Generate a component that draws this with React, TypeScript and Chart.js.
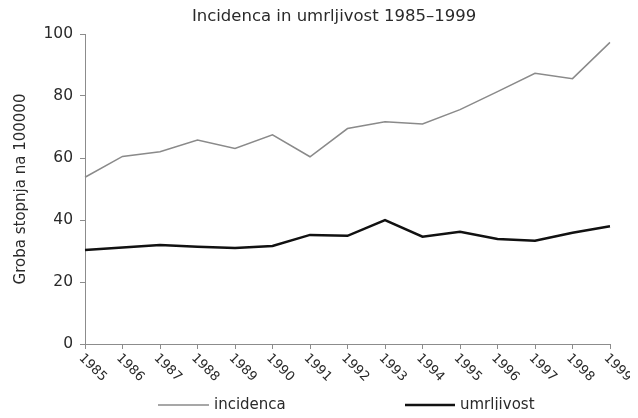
import React, { useEffect, useRef } from "react";
import { Chart, registerables } from "chart.js";

Chart.register(...registerables);

const TITLE = "Incidenca in umrljivost 1985–1999";
const Y_TITLE = "Groba stopnja na 100000";
const years = ["1985", "1986", "1987", "1988", "1989", "1990", "1991", "1992", "1993", "1994", "1995", "1996", "1997", "1998", "1999"];
const incidenca = [53.8, 60.5, 62.0, 65.8, 63.1, 67.5, 60.4, 69.5, 71.7, 71.0, 75.6, 81.4, 87.3, 85.6, 97.3];
const umrljivost = [30.3, 31.1, 31.9, 31.4, 31.0, 31.6, 35.2, 34.9, 40.0, 34.6, 36.2, 33.9, 33.3, 35.9, 38.0];
const seriesNames = ["incidenca", "umrljivost"];
const yTicks = [0, 20, 40, 60, 80, 100];

const FONT = "'DejaVu Sans', sans-serif";
const TEXT = "#2a2a2a";
const AXIS = "#8c8c8c";

const W = 630;
const H = 402;

export default function App() {
  const ref = useRef<HTMLCanvasElement | null>(null);

  useEffect(() => {
    const canvas = ref.current;
    if (!canvas) return;

    const decor = {
      id: "decor",
      afterDraw(chart: any) {
        const ctx = chart.ctx;
        const area = chart.chartArea;
        const xs = chart.scales.x;
        ctx.save();
        ctx.fillStyle = TEXT;
        // title
        ctx.font = `16.5px ${FONT}`;
        ctx.textAlign = "center";
        ctx.textBaseline = "middle";
        ctx.fillText(TITLE, 326, 9);
        // rotated x labels
        ctx.font = `13px ${FONT}`;
        years.forEach((lab, i) => {
          const x = xs.getPixelForTick(i);
          ctx.save();
          ctx.translate(x - 4, area.bottom + 12);
          ctx.rotate(Math.PI / 4);
          ctx.textAlign = "left";
          ctx.textBaseline = "middle";
          ctx.fillText(lab, 0, 0);
          ctx.restore();
        });
        // legend
        const ly = 397;
        const items = [
          { x0: 150, x1: 201, color: "#8a8a8a", w: 1.5, text: seriesNames[0], tx: 206 },
          { x0: 397, x1: 447, color: "#111111", w: 2.5, text: seriesNames[1], tx: 452 },
        ];
        ctx.font = `15px ${FONT}`;
        ctx.textAlign = "left";
        ctx.textBaseline = "middle";
        items.forEach((it) => {
          ctx.strokeStyle = it.color;
          ctx.lineWidth = it.w;
          ctx.beginPath();
          ctx.moveTo(it.x0, ly);
          ctx.lineTo(it.x1, ly);
          ctx.stroke();
          ctx.fillStyle = TEXT;
          ctx.fillText(it.text, it.tx, ly);
        });
        ctx.restore();
      },
    };

    const chart = new Chart(canvas, {
      type: "line",
      data: {
        labels: years,
        datasets: [
          {
            label: seriesNames[0],
            data: incidenca,
            borderColor: "#8a8a8a",
            borderWidth: 1.5,
            pointRadius: 0,
            tension: 0,
            fill: false,
          },
          {
            label: seriesNames[1],
            data: umrljivost,
            borderColor: "#111111",
            borderWidth: 2.5,
            pointRadius: 0,
            tension: 0,
            fill: false,
          },
        ],
      },
      options: {
        responsive: false,
        animation: false,
        layout: { padding: { top: 26, right: 28, left: 0, bottom: 0 } },
        plugins: {
          legend: { display: false },
          title: { display: false },
          tooltip: { enabled: false },
        },
        scales: {
          x: {
            offset: false,
            grid: { display: true, drawOnChartArea: false, drawTicks: true, tickLength: 5, color: AXIS },
            border: { display: true, color: AXIS, width: 1 },
            ticks: { display: false },
            afterFit(scale: any) {
              scale.height = 66;
            },
          },
          y: {
            min: 0,
            max: 100,
            afterBuildTicks(scale: any) {
              scale.ticks = yTicks.map((v) => ({ value: v }));
            },
            grid: { display: true, drawOnChartArea: false, drawTicks: true, tickLength: 5, color: AXIS },
            border: { display: true, color: AXIS, width: 1 },
            ticks: {
              padding: 7,
              color: TEXT,
              font: { family: FONT, size: 15.5 },
            },
            title: {
              display: true,
              text: Y_TITLE,
              color: TEXT,
              font: { family: FONT, size: 15 },
              padding: { top: 4, bottom: 0 },
            },
            afterFit(scale: any) {
              scale.width = 77;
            },
          },
        },
      },
      plugins: [decor],
    });

    return () => chart.destroy();
  }, []);

  return (
    <div style={{ width: W, height: H }}>
      <canvas ref={ref} width={W} height={H} style={{ width: W, height: H, display: "block" }} />
    </div>
  );
}
